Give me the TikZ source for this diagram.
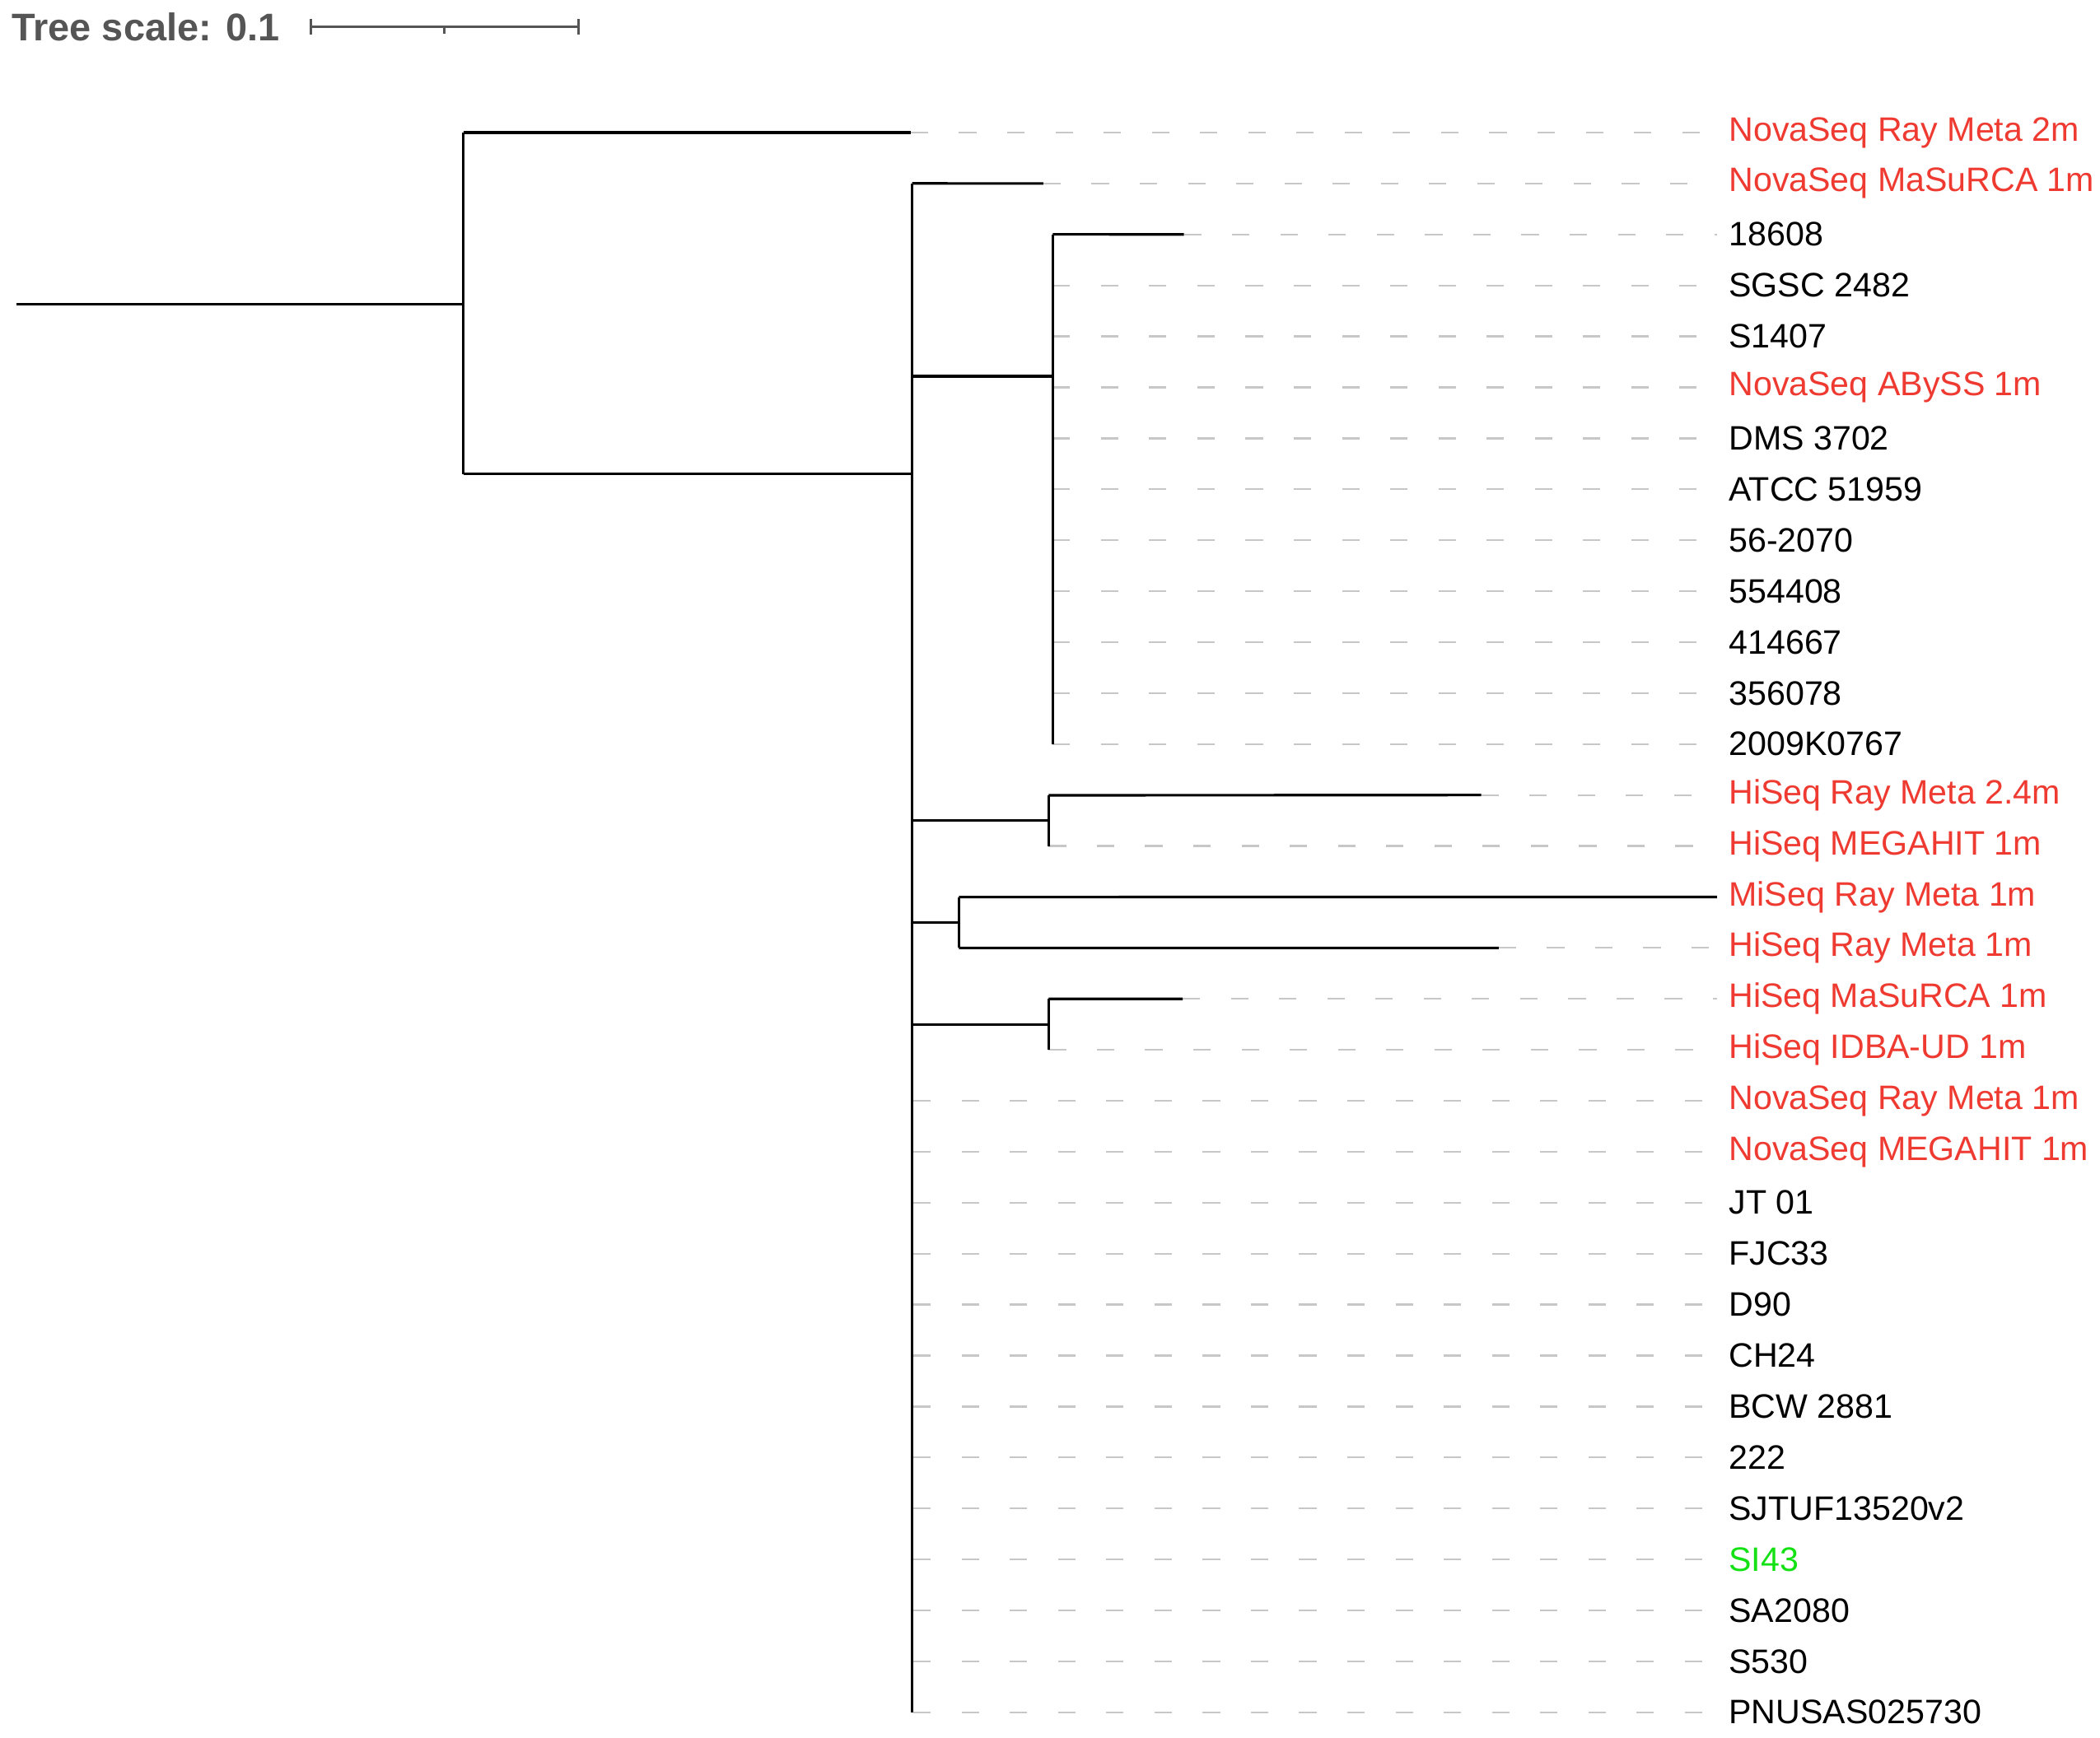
\documentclass[tikz,border=0pt]{standalone}
\usepackage{fontspec}
\setmainfont{Liberation Sans}
\usetikzlibrary{positioning}
\definecolor{tipred}{RGB}{238,58,48}
\definecolor{tipgreen}{RGB}{20,225,20}
\definecolor{scalegray}{RGB}{85,85,85}
\begin{document}
\begin{tikzpicture}[x=0.1mm, y=-0.1mm, line width=0.55pt,
	branch/.style={draw, black},
	guide/.style={draw, black!22, line width=0.4pt, dash pattern=on 1.3mm off 2.3mm},
	leaf/.style={anchor=west, inner sep=0pt, font=\fontsize{7.2}{8}\selectfont}]
	\useasboundingbox (0,0) rectangle (1568,1298);
	% scale bar
	\node[anchor=west, inner sep=0pt, text=scalegray, font=\bfseries\fontsize{8.2}{9}\selectfont] (scale) at (8,20) {Tree scale: 0.1};
	\coordinate (s0) at (232,20);
	\coordinate (s1) at (432,20);
	\draw[scalegray] (s0) -- (s1);
	\draw[scalegray] ([yshift=-0.6mm]s0) -- ([yshift=0.6mm]s0);
	\draw[scalegray] ([yshift=-0.6mm]s1) -- ([yshift=0.6mm]s1);
	\draw[scalegray] (332,20) -- (332,25);
	% leaves: index/label/colour/tip x
	\foreach \i/\txt/\col/\tx in {
		0/NovaSeq Ray Meta 2m/tipred/680,
		1/NovaSeq MaSuRCA 1m/tipred/779,
		2/18608/black/884,
		3/SGSC 2482/black/786,
		4/S1407/black/786,
		5/NovaSeq ABySS 1m/tipred/786,
		6/DMS 3702/black/786,
		7/ATCC 51959/black/786,
		8/56-2070/black/786,
		9/554408/black/786,
		10/414667/black/786,
		11/356078/black/786,
		12/2009K0767/black/786,
		13/HiSeq Ray Meta 2.4m/tipred/1106,
		14/HiSeq MEGAHIT 1m/tipred/783,
		15/MiSeq Ray Meta 1m/tipred/1282,
		16/HiSeq Ray Meta 1m/tipred/1119,
		17/HiSeq MaSuRCA 1m/tipred/883,
		18/HiSeq IDBA-UD 1m/tipred/783,
		19/NovaSeq Ray Meta 1m/tipred/682,
		20/NovaSeq MEGAHIT 1m/tipred/682,
		21/JT 01/black/682,
		22/FJC33/black/682,
		23/D90/black/682,
		24/CH24/black/682,
		25/BCW 2881/black/682,
		26/222/black/682,
		27/SJTUF13520v2/black/682,
		28/SI43/tipgreen/682,
		29/SA2080/black/682,
		30/S530/black/682,
		31/PNUSAS025730/black/682}{
		\node[leaf, text=\col] (l\i) at (1290,99+38.06*\i) {\txt};
		\coordinate (t\i) at (\tx,99+38.06*\i);
		\draw[guide] (t\i) -- ([xshift=-0.8mm]l\i.west);
	}
	% internal nodes
	\coordinate (root) at (12,227);
	\coordinate (n0) at (346,227);
	\coordinate (nA) at (681,354);
	\coordinate (nB) at (786,281);
	\coordinate (nC) at (783,613);
	\coordinate (nD) at (716,689);
	\coordinate (nE) at (783,765);
	
	\path[branch] (root) -- (n0);
	\path[branch] (346,99) -- (346,354);
	\path[branch] (346,99) -- (t0);
	\path[branch] (346,354) -- (nA);
	\path[branch] (681,137) -- (681,1279);
	\path[branch] (681,137) -- (t1);
	\path[branch] (681,281) -- (nB);
	\path[branch] (786,175) -- (786,556);
	\path[branch] (786,175) -- (t2);
	\path[branch] (681,613) -- (nC);
	\path[branch] (783,594) -- (783,632);
	\path[branch] (783,594) -- (t13);
	\path[branch] (681,689) -- (nD);
	\path[branch] (716,670) -- (716,708);
	\path[branch] (716,670) -- (t15);
	\path[branch] (716,708) -- (t16);
	\path[branch] (681,765) -- (nE);
	\path[branch] (783,746) -- (783,784);
	\path[branch] (783,746) -- (t17);
\end{tikzpicture}
\end{document}
